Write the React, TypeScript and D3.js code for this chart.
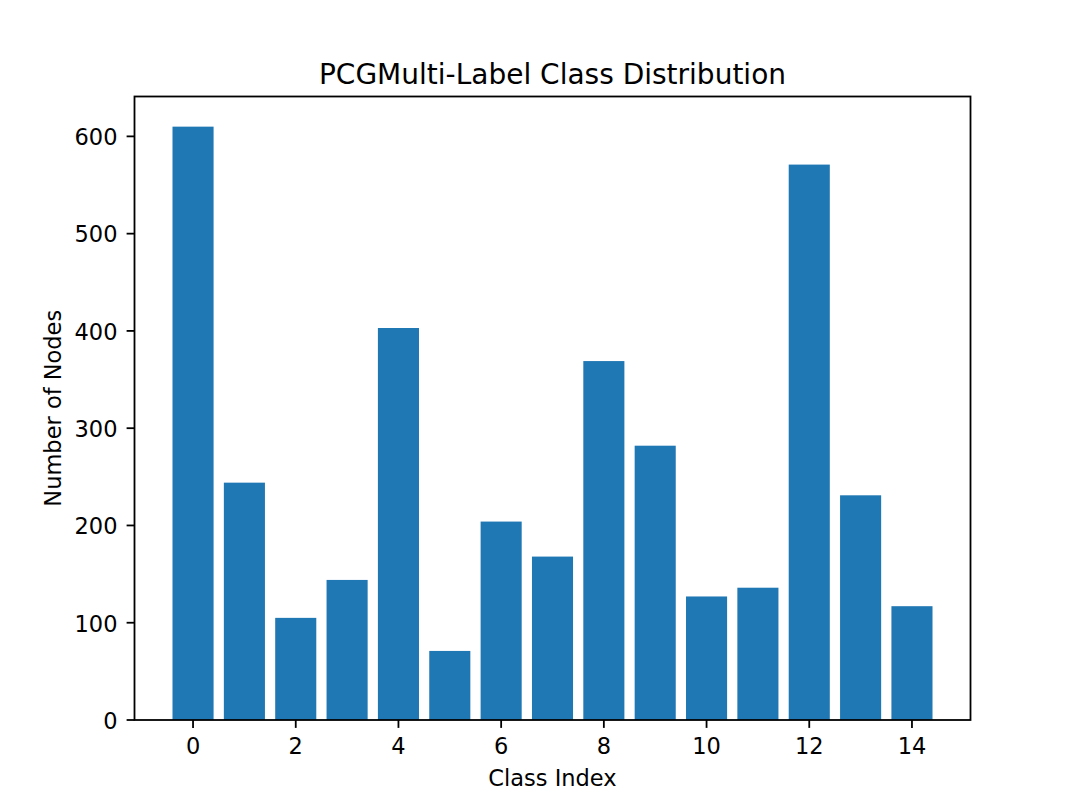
import React from "react";
import * as d3 from "d3";

const classes: number[] = [0, 1, 2, 3, 4, 5, 6, 7, 8, 9, 10, 11, 12, 13, 14];
const counts: number[] = [610, 244, 105, 144, 403, 71, 204, 168, 369, 282, 127, 136, 571, 231, 117];
const xTicks: number[] = [0, 2, 4, 6, 8, 10, 12, 14];
const yTicks: number[] = [0, 100, 200, 300, 400, 500, 600];

const W = 1079;
const H = 809;
const left = 134.5;
const right = 970.5;
const top = 96.5;
const bottom = 720;
const font = "'DejaVu Sans', sans-serif";

export default function App() {
  const x = d3.scaleLinear().domain([-1.14, 15.14]).range([left, right]);
  const y = d3.scaleLinear().domain([0, 641]).range([bottom, top]);
  const bw = x(0.8) - x(0);
  const tick = 7.9;
  const fs = 22.5;
  return (
    <div style={{ position: "absolute", left: 0, top: 0 }}>
      <svg width={W} height={H} style={{ display: "block", background: "#fff" }}>
        <rect x={0} y={0} width={W} height={H} fill="#fff" />
        {classes.map((c, i) => (
          <rect
            key={c}
            x={x(c - 0.4)}
            y={y(counts[i])}
            width={bw}
            height={y(0) - y(counts[i])}
            fill="#1f77b4"
          />
        ))}
        <rect x={left} y={top} width={right - left} height={bottom - top} fill="none" stroke="#000" strokeWidth={1.8} />
        {xTicks.map((t) => (
          <g key={"x" + t}>
            <line x1={x(t)} x2={x(t)} y1={bottom} y2={bottom + tick} stroke="#000" strokeWidth={1.8} />
            <text x={x(t)} y={754} textAnchor="middle" fontFamily={font} fontSize={fs} fill="#000">
              {t}
            </text>
          </g>
        ))}
        {yTicks.map((t) => (
          <g key={"y" + t}>
            <line x1={left - tick} x2={left} y1={y(t)} y2={y(t)} stroke="#000" strokeWidth={1.8} />
            <text x={left - 17} y={y(t) + 8.8} textAnchor="end" fontFamily={font} fontSize={fs} fill="#000">
              {t}
            </text>
          </g>
        ))}
        <text x={(left + right) / 2} y={83.5} textAnchor="middle" fontFamily={font} fontSize={28} fill="#000">
          PCGMulti-Label Class Distribution
        </text>
        <text x={(left + right) / 2} y={786} textAnchor="middle" fontFamily={font} fontSize={fs} fill="#000">
          Class Index
        </text>
        <text
          transform={`translate(61, ${(top + bottom) / 2}) rotate(-90)`}
          textAnchor="middle"
          fontFamily={font}
          fontSize={fs}
          fill="#000"
        >
          Number of Nodes
        </text>
      </svg>
    </div>
  );
}
